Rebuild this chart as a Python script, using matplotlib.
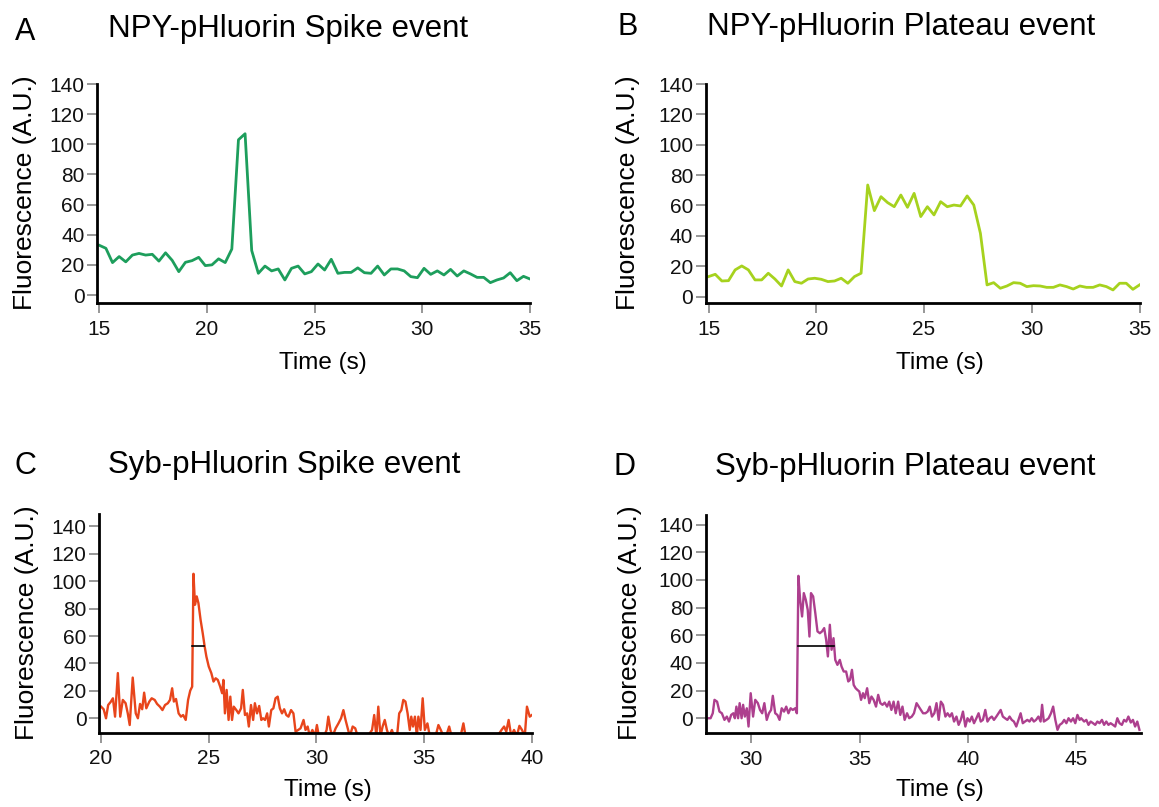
import numpy as np
import matplotlib
matplotlib.use("Agg")
import matplotlib.pyplot as plt

plt.rcParams['font.family'] = ['Liberation Sans', 'DejaVu Sans']

# ---------------- data ----------------
# Panel A: NPY-pHluorin spike (regular sampling)
a_t0, a_dt = 15.0, 0.3077
a_y = [33, 31, 21.5, 25.5, 22, 26.5, 27.6, 26.5, 27, 22.5,
       28, 23, 15.5, 21.7, 22.8, 25, 19.5, 20, 24, 21.5,
       30.5, 103, 107, 29.5, 14.4, 19.2, 16, 17.3, 10, 17.7,
       19.2, 14, 15.5, 20.6, 16.6, 23.7, 14.4, 15, 15, 18,
       14.8, 14.4, 19.2, 13.3, 17.3, 17.3, 16, 12.2, 11.5, 17.7,
       13.7, 16, 13.3, 17, 12.6, 16, 14, 11.7, 11.7, 8.2,
       10, 11.3, 14.8, 9.5, 12.4, 10.6]

# Panel B: NPY-pHluorin plateau (regular sampling)
b_t0, b_dt = 15.0, 0.3077
b_y = [13.2, 14.7, 10.3, 10.5, 17.6, 20.2, 17.6, 11, 11, 15.4,
       11.6, 7, 17.6, 9.9, 8.8, 11.6, 12.1, 11.4, 9.9, 10.3,
       12.1, 8.8, 13.2, 15.4, 73.5, 56.6, 65.8, 61.9, 59.2, 66.9,
       58.8, 68, 52.7, 59.2, 53.8, 62.5, 59.2, 60.3, 59.7, 66.3,
       60.3, 41.7, 7.7, 9.2, 5.5, 7, 9.2, 8.8, 6.6, 7.2,
       7, 6.1, 6.1, 7.7, 6.6, 5, 7, 6.1, 6.1, 7.7,
       6.6, 4.4, 8.8, 8.8, 4.8, 7.7]

# Panel C: Syb-pHluorin spike
c_t = [20.00, 20.12, 20.23, 20.33, 20.45, 20.55, 20.65, 20.78, 20.89, 21.01,
       21.14, 21.24, 21.33, 21.47, 21.61, 21.71, 21.81, 21.91, 22.00, 22.10,
       22.24, 22.35, 22.49, 22.60, 22.73, 22.85, 22.97, 23.10, 23.20, 23.30,
       23.38, 23.48, 23.60, 23.71, 23.81, 23.93, 24.04, 24.14, 24.23, 24.29,
       24.36, 24.44, 24.52, 24.62, 24.72, 24.81, 24.89, 25.00, 25.12, 25.22,
       25.32, 25.42, 25.53, 25.62, 25.68, 25.75, 25.83, 25.92, 26.00, 26.08,
       26.16, 26.28, 26.38, 26.50, 26.58, 26.68, 26.78, 26.86, 26.96, 27.06,
       27.14, 27.24, 27.34, 27.44, 27.52, 27.61, 27.71, 27.79, 27.90, 28.00,
       28.10, 28.20, 28.30, 28.40, 28.50, 28.60, 28.70, 28.82, 28.93, 29.03,
       29.15, 29.26, 29.40, 29.49, 29.59, 29.69, 29.81, 29.93, 30.02, 30.11,
       30.22, 30.36, 30.47, 30.55, 30.65, 30.75, 30.89, 31.02, 31.14, 31.25,
       31.35, 31.47, 31.55, 31.68, 31.80, 31.91, 32.05, 32.21, 32.38, 32.58,
       32.68, 32.78, 32.87, 32.97, 33.07, 33.17, 33.27, 33.37, 33.50, 33.60,
       33.74, 33.84, 33.94, 34.03, 34.13, 34.23, 34.33, 34.40, 34.48, 34.57,
       34.66, 34.73, 34.83, 34.93, 35.03, 35.15, 35.26, 35.39, 35.53, 35.66,
       35.77, 35.89, 36.02, 36.16, 36.27, 36.39, 36.52, 36.69, 36.82, 36.92,
       37.20, 37.60, 38.00, 38.40, 38.59, 38.71, 38.81, 38.92, 39.04, 39.17,
       39.30, 39.42, 39.54, 39.67, 39.77, 39.83, 39.90, 40.00]
c_y = [8.5, 6.6, 0, 9.7, 12, 14.6, 1.2, 33, 1.2, 13.4,
       11, 3.6, -4.9, 29.7, 3.6, 0, 10.5, 6.6, 18.7, 7.3,
       12.2, 14.6, 13.4, 10.5, 8.5, 6, 9.7, 11, 13.4, 21.9,
       12.2, 14.1, 3.6, 1.2, 2.4, -1.2, 13.4, 20.2, 23.1, 105.4,
       82.8, 88.9, 84, 71.8, 62, 52.3, 45, 37.7, 32.9, 26.8,
       29.2, 28, 23.1, 18.3, 28, 3.6, 20.7, -1.2, 15.8, -1.2,
       8.5, 6, 3.6, 7.3, 20.7, 2.4, 3.6, -6, 9.7, -1.2,
       11, 3.6, 9, -1.2, 0, -1.2, 3.6, -6, 6, 7.3,
       14.6, 15.8, 7.3, 3.6, 6.6, 2.4, 1.2, 6, 3.6, -9.7,
       -8.5, -7.3, -1.2, -8.5, -6, -13, -8.5, -13, -4.9, -13,
       -13, -13, -8.5, 1.2, -8.5, -13, -7.3, -3.7, 0, 6,
       -1.2, -8.5, -13, -6, -7.3, -13, -13, -13, -13, -8.5,
       2.4, -13, 8.5, -13, -6, -1.2, -8.5, -13, -8.5, -13,
       -13, 3.6, 6, 13.4, 12.2, 3.6, -8.5, 1.2, -6, 1.2,
       -13, 1.2, -8.5, 14.6, -8.5, -3.7, -13, -13, -13, -4.9,
       -8.5, -13, -13, -6, -13, -13, -13, -13, -3.7, -13,
       -13, -13, -13, -13, -8.5, -6, -9.7, -1.2, -13, -8.5,
       -13, -5.5, -8.5, -13, 8.5, 5, 1.2, 2.4]
c_half_t = [24.23, 24.79]
c_half_y = 52.5

# Panel D: Syb-pHluorin plateau
d_t = [28.01, 28.13, 28.23, 28.31, 28.43, 28.54, 28.65, 28.77, 28.88, 28.98,
       29.08, 29.18, 29.25, 29.32, 29.40, 29.47, 29.56, 29.63, 29.71, 29.80,
       29.88, 29.98, 30.09, 30.19, 30.31, 30.41, 30.51, 30.61, 30.72, 30.82,
       30.92, 31.00, 31.11, 31.21, 31.31, 31.41, 31.52, 31.62, 31.72, 31.82,
       31.92, 32.03, 32.11, 32.18, 32.26, 32.35, 32.43, 32.52, 32.61, 32.69,
       32.76, 32.86, 32.96, 33.06, 33.17, 33.27, 33.37, 33.46, 33.54, 33.63,
       33.71, 33.80, 33.88, 33.98, 34.09, 34.17, 34.27, 34.38, 34.48, 34.56,
       34.65, 34.73, 34.82, 34.90, 34.99, 35.07, 35.16, 35.24, 35.35, 35.45,
       35.55, 35.65, 35.76, 35.86, 35.96, 36.06, 36.16, 36.27, 36.37, 36.47,
       36.57, 36.67, 36.78, 36.88, 36.98, 37.08, 37.19, 37.29, 37.41, 37.51,
       37.63, 37.73, 37.83, 37.93, 38.04, 38.14, 38.24, 38.34, 38.45, 38.55,
       38.65, 38.75, 38.85, 38.96, 39.06, 39.16, 39.26, 39.36, 39.47, 39.57,
       39.67, 39.77, 39.88, 39.98, 40.08, 40.18, 40.28, 40.39, 40.49, 40.59,
       40.69, 40.80, 40.90, 41.00, 41.10, 41.20, 41.31, 41.41, 41.51, 41.61,
       41.71, 41.82, 41.92, 42.02, 42.12, 42.23, 42.33, 42.43, 42.53, 42.63,
       42.74, 42.84, 42.94, 43.04, 43.14, 43.25, 43.35, 43.42, 43.50, 43.62,
       43.72, 43.83, 43.93, 44.03, 44.13, 44.23, 44.34, 44.44, 44.54, 44.64,
       44.75, 44.85, 44.95, 45.05, 45.15, 45.22, 45.36, 45.46, 45.56, 45.66,
       45.77, 45.87, 45.97, 46.07, 46.18, 46.28, 46.38, 46.48, 46.58, 46.69,
       46.79, 46.89, 46.99, 47.10, 47.20, 47.30, 47.40, 47.51, 47.61, 47.71,
       47.81, 47.91]
d_y = [0, 0, 3.6, 13.3, 12, 4.8, 3.6, -1.2, 1.2, -2.4,
       2.4, 3.6, 0, 8.4, 0, 10.9, 0, 9.7, 1.2, 7.2,
       -6, 18.1, 1.2, 13.3, 10.9, 6, 3.6, 10.9, -1.2, 3.6,
       6, 16.2, 3.6, 2.4, -1.2, 7.2, 4.8, 8.4, 3.6, 7.2,
       6, 7.2, 3.6, 103, 85.7, 73.6, 90.5, 85.7, 78.4, 59.1,
       90.5, 88.1, 76, 62.8, 61.5, 62.8, 65.2, 56.7, 44.7, 67.6,
       49.5, 57.9, 42.2, 38.6, 42.2, 37.4, 33.8, 33.8, 26.6, 27.8,
       35, 24.1, 21.7, 20.5, 19.3, 13.3, 18.1, 14.5, 21.7, 10.9,
       15.7, 13.3, 8.4, 16.9, 10.9, 9.7, 11.3, 8.4, 12, 6,
       12, 3.6, 12, 2.4, 8.4, -1.2, 3.6, 0, 1.2, 3.6,
       10.9, 8.4, 6, 3.6, 3.6, 4.8, 8.4, 1.2, 3.6, 10.9,
       -1.2, 12, 9.7, 1.2, 3.6, 1.2, 3.6, -2.4, 1.2, -4.8,
       -1.2, 4.8, -6, 0, -2.4, 1.2, -3.6, 0, 3.6, -2.4,
       -1.2, 6, -2.4, 0, 1.2, -1.2, 1.2, 3.6, 6, 1.2,
       0, -1.2, 1.2, -1.2, -2.4, -6, -1.2, 3.6, -3.6, -2.4,
       -1.2, -2.4, 0, -2.4, -1.2, 1.2, -2.4, 9.7, -2.4, -1.2,
       0, 3.6, 8.4, -1.2, -8.4, -4.8, -3.6, -1.2, -3.6, 0,
       -2.4, 0, -3.6, 2.4, -1.2, 0, -2.4, -1.2, -4.8, -2.4,
       -3.6, -4.8, -2.4, -3.6, -1.2, -4.8, -2.4, -4.8, -3.6, -4.8,
       -6, 0, -3.6, -4.8, -1.2, -2.4, 1.2, -3.1, -1.2, -6,
       -2.4, -8.4]
d_half_t = [32.18, 33.82]
d_half_y = 52

y_ticks = [0, 20, 40, 60, 80, 100, 120, 140]
a_xticks = [15, 20, 25, 30, 35]
c_xticks = [20, 25, 30, 35, 40]
d_xticks = [30, 35, 40, 45]

letters = ["A", "B", "C", "D"]
titles = ["NPY-pHluorin Spike event", "NPY-pHluorin Plateau event",
          "Syb-pHluorin Spike event", "Syb-pHluorin Plateau event"]

# ---------------- figure ----------------
W, H = 1159, 807
fig = plt.figure(figsize=(W / 100, H / 100), dpi=100)

def px_axes(l, r, t, b):
    return fig.add_axes([l / W, 1 - b / H, (r - l) / W, (b - t) / H])

def style(ax, xticks):
    for s in ("top", "right"):
        ax.spines[s].set_visible(False)
    for s in ("left", "bottom"):
        ax.spines[s].set_linewidth(2.0)
        ax.spines[s].set_color("black")
    ax.set_yticks(y_ticks)
    ax.set_xticks(xticks)
    ax.tick_params(axis="both", direction="out", length=7, width=1.1,
                   color="#7a7a7a", labelsize=15, labelcolor="#111111")
    ax.tick_params(axis="y", pad=2)
    ax.tick_params(axis="x", pad=5)

axA = px_axes(97.1, 530.1, 84, 303.3)
axB = px_axes(705.6, 1139.5, 84, 303.3)
axC = px_axes(98.9, 531.9, 514, 732.7)
axD = px_axes(705.6, 1141.4, 515, 733.3)

tA = a_t0 + a_dt * np.arange(len(a_y))
tB = b_t0 + b_dt * np.arange(len(b_y))

axA.plot(tA, a_y, color="#1d9e5c", lw=2.0)
axA.set_xlim(14.9, 35.0)
axA.set_ylim(-5.5, 140)
style(axA, a_xticks)

axB.plot(tB, b_y, color="#a6d21e", lw=2.0)
axB.set_xlim(14.86, 35.0)
axB.set_ylim(-4.4, 140)
style(axB, a_xticks)

axC.plot(c_t, c_y, color="#e8451b", lw=1.7)
axC.plot(c_half_t, [c_half_y, c_half_y], color="black", lw=1.2)
axC.set_xlim(19.9, 40.0)
axC.set_ylim(-10.5, 149)
style(axC, c_xticks)

axD.plot(d_t, d_y, color="#ad3f8e", lw=1.7)
axD.plot(d_half_t, [d_half_y, d_half_y], color="black", lw=1.2)
axD.set_xlim(27.9, 48.0)
axD.set_ylim(-10.9, 147)
style(axD, d_xticks)

# panel letters and titles
letter_pos = [(15, 40), (617, 35), (15, 474), (613, 475)]
title_pos = [(108, 37), (707, 35), (108, 473), (715, 475)]
for L, T, (lx, ly), (tx, ty) in zip(letters, titles, letter_pos, title_pos):
    fig.text(lx / W, 1 - ly / H, L, fontsize=22, ha="left", va="baseline")
    fig.text(tx / W, 1 - ty / H, T, fontsize=22.5, ha="left", va="baseline")

# axis labels
ylab_pos = [(25, 193), (628, 193), (27, 623), (630, 623)]
xlab_pos = [(323, 363), (940, 363), (328, 790), (940, 790)]
for (x, y) in ylab_pos:
    fig.text(x / W, 1 - y / H, "Fluorescence (A.U.)", fontsize=19,
             rotation=90, ha="center", va="center")
for (x, y) in xlab_pos:
    fig.text(x / W, 1 - y / H, "Time (s)", fontsize=17.5,
             ha="center", va="center")

fig.savefig("out.png", dpi=100)
